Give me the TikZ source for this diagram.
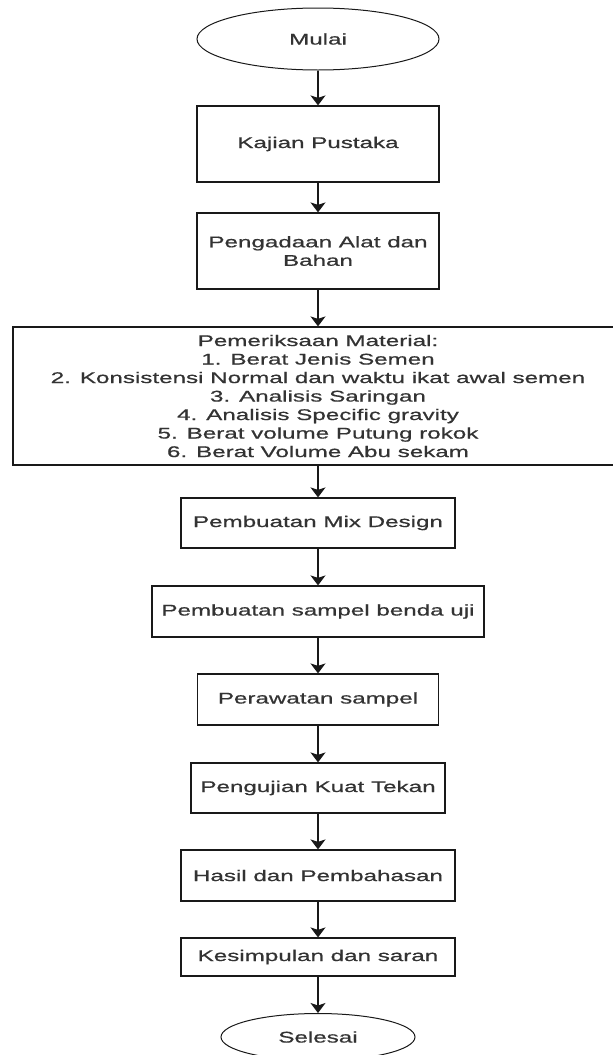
\documentclass[tikz,border=0pt]{standalone}
\usepackage{fontspec}
\setmainfont{Liberation Sans}[FakeStretch=1.56, FakeBold=0.7]
\usetikzlibrary{shapes.geometric,arrows.meta}
\begin{document}
\begin{tikzpicture}[x=1pt,y=-1pt,
  every node/.style={font=\fontsize{15.5}{18.5}\selectfont, text=black!80},
  box/.style={draw=black!90, line width=1.2pt, rectangle, inner sep=0pt, align=center},
  term/.style={draw=black!90, line width=1pt, ellipse, inner sep=0pt},
  arr/.style={draw=black!90, line width=1.2pt, -{Stealth[width=15pt,length=10pt,inset=2.5pt]}}]
\useasboundingbox (0,0) rectangle (613,1055);
\clip (0,0) rectangle (613,1055);
\node[term, minimum width=242pt, minimum height=62pt] (mulai) at (318,39) {Mulai};
\node[box, minimum width=242pt, minimum height=76pt] (kajian) at (318,144) {Kajian Pustaka};
\node[box, minimum width=242pt, minimum height=76pt] (alat) at (318,251) {Pengadaan Alat dan\\Bahan};
\node[box, minimum width=610pt, minimum height=138pt] (material) at (318,396) {Pemeriksaan Material:\\1. Berat Jenis Semen\\2. Konsistensi Normal dan waktu ikat awal semen\\3. Analisis Saringan\\4. Analisis Specific gravity\\5. Berat volume Putung rokok\\6. Berat Volume Abu sekam};
\node[box, minimum width=274pt, minimum height=50pt] (mix) at (318,523) {Pembuatan Mix Design};
\node[box, minimum width=332pt, minimum height=51pt] (sampel) at (318,611.5) {Pembuatan sampel benda uji};
\node[box, minimum width=241pt, minimum height=51pt] (rawat) at (318,699.5) {Perawatan sampel};
\node[box, minimum width=254pt, minimum height=50pt] (uji) at (318,788) {Pengujian Kuat Tekan};
\node[box, minimum width=274pt, minimum height=51pt] (hasil) at (318,875.5) {Hasil dan Pembahasan};
\node[box, minimum width=274pt, minimum height=38pt] (simpul) at (318,957) {Kesimpulan dan saran};
\node[term, minimum width=194pt, minimum height=47pt] (selesai) at (318,1037) {Selesai};
\draw[arr] (mulai.south) -- (kajian.north);
\draw[arr] (kajian.south) -- (alat.north);
\draw[arr] (alat.south) -- (material.north);
\draw[arr] (material.south) -- (mix.north);
\draw[arr] (mix.south) -- (sampel.north);
\draw[arr] (sampel.south) -- (rawat.north);
\draw[arr] (rawat.south) -- (uji.north);
\draw[arr] (uji.south) -- (hasil.north);
\draw[arr] (hasil.south) -- (simpul.north);
\draw[arr] (simpul.south) -- (selesai.north);
\end{tikzpicture}
\end{document}
